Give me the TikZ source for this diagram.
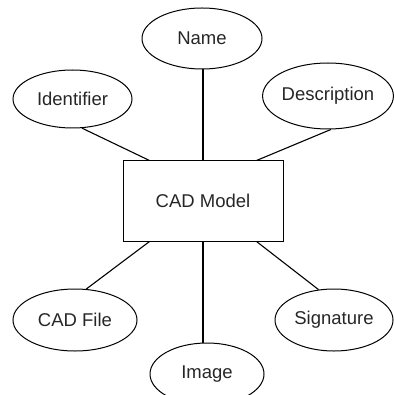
\documentclass[tikz,border=0pt]{standalone}
\usepackage{fontspec}
\setmainfont{Liberation Sans}
\usetikzlibrary{shapes.geometric}
\begin{document}
\begin{tikzpicture}[x=1pt,y=-1pt,
  attr/.style={draw=black, line width=1pt, ellipse, inner sep=0pt,
    text=black!85, font=\fontsize{18.5}{22}\selectfont},
  entity/.style={draw=black, line width=1pt, rectangle, inner sep=0pt,
    minimum width=160pt, minimum height=80pt,
    text=black!85, font=\fontsize{18.5}{22}\selectfont},
  link/.style={draw=black, line width=1.1pt}]
  \useasboundingbox (0,0) rectangle (393,395);

  % central entity
  \node[entity] (model) at (203,201) {CAD Model};

  % attributes
  \node[attr, minimum width=120pt, minimum height=61pt] (name)  at (202,38.5) {Name};
  \node[attr, minimum width=119pt, minimum height=58pt] (ident) at (72.5,99) {Identifier};
  \node[attr, minimum width=128pt, minimum height=66pt] (desc)  at (328,96) {Description};
  \node[attr, minimum width=124pt, minimum height=62pt] (file)  at (75,320) {CAD File};
  \node[attr, minimum width=114pt, minimum height=62pt] (image) at (207,374) {Image};
  \node[attr, minimum width=118pt, minimum height=62pt] (sig)   at (334,320) {Signature};

  % connectors
  \draw[link] ([xshift=27pt]model.north west) -- (ident.-72);
  \draw[link] (model.north) -- (model.north |- name.south);
  \draw[link] ([xshift=-27pt]model.north east) -- (desc.-85);
  \draw[link] ([xshift=27pt]model.south west) -- (file.70);
  \draw[link] (model.south) -- (model.south |- image.north);
  \draw[link] ([xshift=-27pt]model.south east) -- (sig.117);
\end{tikzpicture}
\end{document}
